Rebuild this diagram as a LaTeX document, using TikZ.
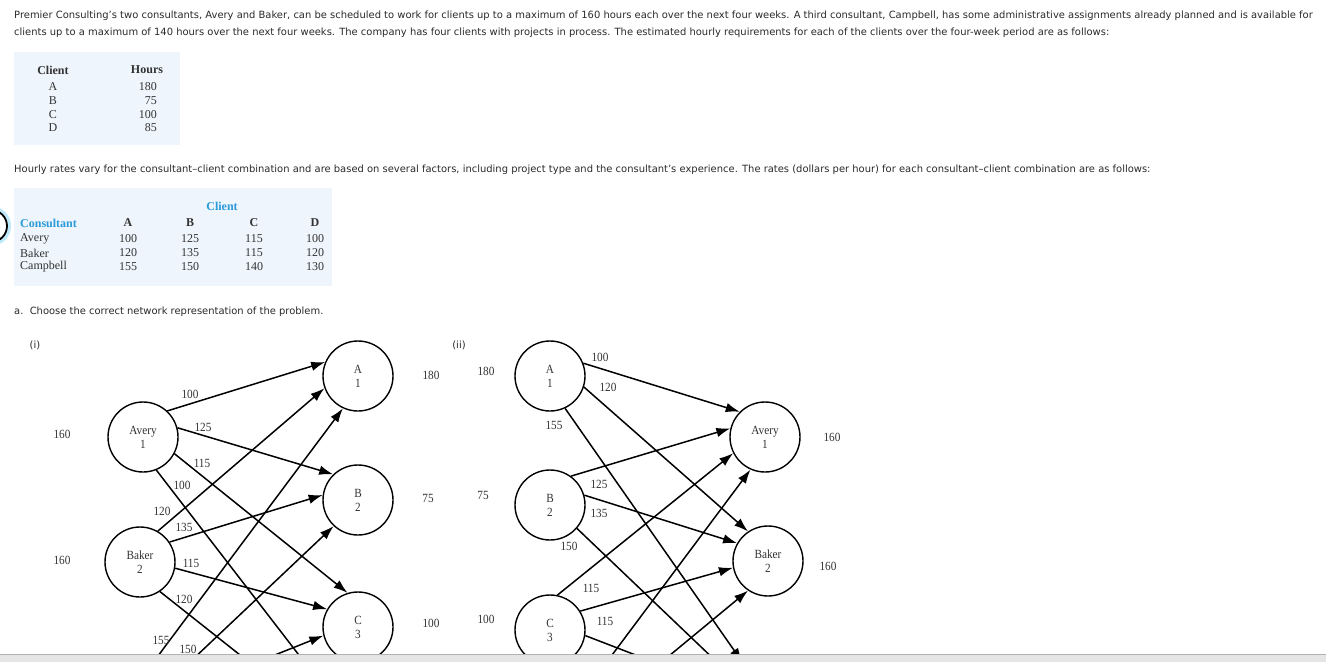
\documentclass[tikz,border=0pt]{standalone}
\usepackage{fontspec}
\setmainfont{Liberation Serif}
\newfontfamily\uifont{DejaVu Sans}
\newfontfamily\netfont[FakeStretch=0.9]{Liberation Serif}
\usetikzlibrary{arrows.meta}
\definecolor{tabbg}{HTML}{EEF5FC}
\definecolor{tabblue}{HTML}{2A9AD8}
\definecolor{txt}{HTML}{2A2A2A}
\definecolor{nettxt}{HTML}{333333}
\tikzset{
  body/.style={font=\uifont\fontsize{9.95}{11}\selectfont, text=txt, anchor=west, inner sep=0pt},
  tabtxt/.style={font=\fontsize{12}{13}\selectfont, text=nettxt, inner sep=0pt},
  tabhd/.style={font=\bfseries\fontsize{12}{13}\selectfont, text=nettxt, inner sep=0pt},
  tabhdblue/.style={font=\bfseries\fontsize{12}{13}\selectfont, text=tabblue, inner sep=0pt},
  netnode/.style={circle, draw, line width=1.4pt, minimum size=70pt, inner sep=0pt,
    font=\netfont\fontsize{12.5}{14}\selectfont, align=center, text=nettxt},
  hidnode/.style={circle, minimum size=70pt, inner sep=0pt},
  netlbl/.style={font=\netfont\fontsize{12.5}{14}\selectfont, text=nettxt, inner sep=0pt},
  flow/.style={line width=1.5pt, -{Latex[length=14pt,width=9.5pt]}},
}
\begin{document}
\begin{tikzpicture}[x=1pt,y=-1pt]
\useasboundingbox (0,0) rectangle (1326,662);
\fill[white] (0,0) rectangle (1326,662);

% radio button fragment at the left edge
\begin{scope}
\clip (0,0) rectangle (20,300);
\draw[cyan!25, line width=3pt] (-9,226) circle (18.5);
\draw[black, line width=1.8pt] (-9,226) circle (16);
\end{scope}

% intro text
\node[body] (l1) at (14,16) {Premier Consulting’s two consultants, Avery and Baker, can be scheduled to work for clients up to a maximum of 160 hours each over the next four weeks. A third consultant, Campbell, has some administrative assignments already planned and is available for};
\node[body] (l2) at (14,33) {clients up to a maximum of 140 hours over the next four weeks. The company has four clients with projects in process. The estimated hourly requirements for each of the clients over the four-week period are as follows:};

% table 1
\fill[tabbg] (14,52) rectangle (180,145);
\node[tabhd] (t1c) at (53,70) {Client};
\node[tabhd] (t1h) at (147,70) {Hours};
\node[tabtxt] (t1a) at (53,87) {A};
\node[tabtxt] (t1b) at (53,101) {B};
\node[tabtxt] (t1cc) at (53,115) {C};
\node[tabtxt] (t1d) at (53,128) {D};
\node[tabtxt, anchor=east] (t1ha) at (157,87) {180};
\node[tabtxt, anchor=east] (t1hb) at (157,101) {75};
\node[tabtxt, anchor=east] (t1hc) at (157,115) {100};
\node[tabtxt, anchor=east] (t1hd) at (157,128) {85};

\node[body] (l3) at (14,170) {Hourly rates vary for the consultant–client combination and are based on several factors, including project type and the consultant’s experience. The rates (dollars per hour) for each consultant–client combination are as follows:};

% table 2
\fill[tabbg] (14,188) rectangle (332,286);
\node[tabhdblue] (t2cl) at (222,206) {Client};
\node[tabhdblue, anchor=west] (t2con) at (20,223) {Consultant};
\node[tabhd] (t2A) at (128,223) {A};
\node[tabhd] (t2B) at (190,223) {B};
\node[tabhd] (t2C) at (254,223) {C};
\node[tabhd] (t2D) at (315,223) {D};
\node[tabtxt, anchor=west] (t2r1) at (20,239) {Avery};
\node[tabtxt, anchor=west] (t2r2) at (20,253) {Baker};
\node[tabtxt, anchor=west] (t2r3) at (20,267) {Campbell};
\node[tabtxt] (v11) at (128,239) {100};
\node[tabtxt] (v12) at (190,239) {125};
\node[tabtxt] (v13) at (254,239) {115};
\node[tabtxt] (v14) at (315,239) {100};
\node[tabtxt] (v21) at (128,253) {120};
\node[tabtxt] (v22) at (190,253) {135};
\node[tabtxt] (v23) at (254,253) {115};
\node[tabtxt] (v24) at (315,253) {120};
\node[tabtxt] (v31) at (128,267) {155};
\node[tabtxt] (v32) at (190,267) {150};
\node[tabtxt] (v33) at (254,267) {140};
\node[tabtxt] (v34) at (315,267) {130};

\node[body] (l4) at (14,312) {a.\ \ Choose the correct network representation of the problem.};
\node[body, anchor=center] (ni) at (35,345) {(i)};
\node[body, anchor=center] (nii) at (459,345) {(ii)};

\begin{scope}
\clip (0,0) rectangle (1326,654);
% ---------- network (i)
\node[netnode] (avI) at (143,437) {Avery\\1};
\node[netnode] (bkI) at (140,562) {Baker\\2};
\node[hidnode] (cpI) at (140,690) {};
\node[netnode] (aI) at (358,376) {A\\1};
\node[netnode] (bI) at (358,500) {B\\2};
\node[netnode] (cI) at (358,627) {C\\3};
\node[hidnode] (dI) at (358,752) {};

\draw[flow] (avI.47) -- (aI.157);
\draw[flow] (avI.15) -- (bI.134);
\draw[flow] (avI.-28) -- (cI.107);
\draw[flow] (avI.-68) -- (dI.107);
\draw[flow] (bkI.60) -- (aI.200);
\draw[flow] (bkI.34) -- (bI.172);
\draw[flow] (bkI.-10) -- (cI.150);
\draw[flow] (bkI.-56) -- (dI.137);
\draw[flow] (cpI.63) -- (aI.245);
\draw[flow] (cpI.20) -- (bI.227);
\draw[flow] (cpI.-8) -- (cI.194);
\draw[flow] (cpI.-20) -- (dI.170);

\node[netlbl] (eI1) at (190,394) {100};
\node[netlbl] (eI2) at (203,427) {125};
\node[netlbl] (eI3) at (202,463) {115};
\node[netlbl] (eI4) at (182,485) {100};
\node[netlbl] (eI5) at (162,511) {120};
\node[netlbl] (eI6) at (184,527) {135};
\node[netlbl] (eI7) at (191,563) {115};
\node[netlbl] (eI8) at (184,599) {120};
\node[netlbl] (eI9) at (161,640) {155};
\node[netlbl] (eI10) at (188,649) {150};

\node[netlbl] (sI1) at (62,434) {160};
\node[netlbl] (sI2) at (62,560) {160};
\node[netlbl] (dIa) at (431,375) {180};
\node[netlbl] (dIb) at (428,498) {75};
\node[netlbl] (dIc) at (431,623) {100};

% ---------- network (ii)
\node[netnode] (aII) at (550,376) {A\\1};
\node[netnode] (bII) at (550,505) {B\\2};
\node[netnode] (cII) at (550,630) {C\\3};
\node[hidnode] (dII) at (550,757) {};
\node[netnode] (avII) at (765,437) {Avery\\1};
\node[netnode] (bkII) at (768,561) {Baker\\2};
\node[hidnode] (cpII) at (768,686) {};

\draw[flow] (aII.21) -- (avII.135);
\draw[flow] (aII.-18) -- (bkII.124);
\draw[flow] (aII.-65) -- (cpII.137);
\draw[flow] (bII.54) -- (avII.166);
\draw[flow] (bII.16) -- (bkII.150);
\draw[flow] (bII.-41) -- (cpII.167);
\draw[flow] (cII.78) -- (avII.207);
\draw[flow] (cII.32) -- (bkII.191);
\draw[flow] (cII.-9) -- (cpII.191);
\draw[flow] (dII.72) -- (avII.246);
\draw[flow] (dII.43) -- (bkII.236);
\draw[flow] (dII.10) -- (cpII.190);

\node[netlbl] (eII1) at (600,357) {100};
\node[netlbl] (eII2) at (608,387) {120};
\node[netlbl] (eII3) at (554,425) {155};
\node[netlbl] (eII4) at (599,484) {125};
\node[netlbl] (eII5) at (599,513) {135};
\node[netlbl] (eII6) at (569,546) {150};
\node[netlbl] (eII7) at (591,588) {115};
\node[netlbl] (eII8) at (605,621) {115};

\node[netlbl] (sIIa) at (486,371) {180};
\node[netlbl] (sIIb) at (483,495) {75};
\node[netlbl] (sIIc) at (486,619) {100};
\node[netlbl] (dIIa) at (832,437) {160};
\node[netlbl] (dIIb) at (828,566) {160};
\end{scope}

% bottom grey bar
\fill[black!10] (0,654) rectangle (1326,662);
\draw[black!30, line width=1.2pt] (0,654.5) -- (1326,654.5);
\end{tikzpicture}
\end{document}
